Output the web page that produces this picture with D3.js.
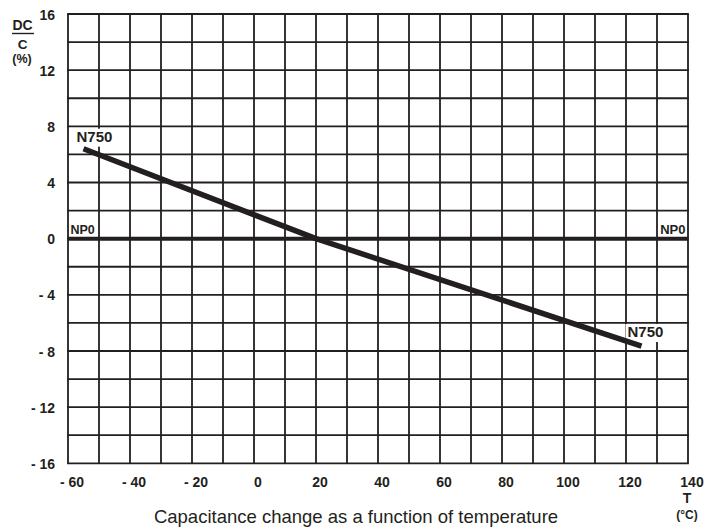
<!DOCTYPE html>
<html>
<head>
<meta charset="utf-8">
<script src="https://cdn.jsdelivr.net/npm/d3@7"></script>
<style>
  html, body { margin: 0; padding: 0; background: #ffffff; }
  svg { display: block; }
  text { font-family: "Liberation Sans", Arial, Helvetica, sans-serif; fill: #231f20; }
</style>
</head>
<body>
<svg id="chart" width="705" height="529"></svg>
<script>
// ---- data ----
const xTicks = [-60, -40, -20, 0, 20, 40, 60, 80, 100, 120, 140];
const yTicks = [-16, -12, -8, -4, 0, 4, 8, 12, 16];
const xGrid = d3.range(-60, 141, 10);
const yGrid = d3.range(-16, 17, 2);
const n750Temp = [-55, 20, 125];
const n750Change = [6.4, 0, -7.65];
const np0Temp = [-60, 140];
const np0Change = [0, 0];
const title = "Capacitance change as a function of temperature";

// ---- layout ----
const plotLeft = 68, plotRight = 688, plotTop = 14, plotBottom = 463.3;
const ink = "#231f20";

const svg = d3.select("#chart");
const x = d3.scaleLinear().domain([-60, 140]).range([plotLeft, plotRight]);
const y = d3.scaleLinear().domain([-16, 16]).range([plotBottom, plotTop]);

const fmt = v => v < 0 ? "- " + Math.abs(v) : String(v);

// grid
const g = svg.append("g");
g.selectAll("line.vx").data(xGrid).join("line")
  .attr("x1", d => x(d)).attr("x2", d => x(d))
  .attr("y1", plotTop).attr("y2", plotBottom)
  .attr("stroke", ink).attr("stroke-width", 1.8);
g.selectAll("line.hy").data(yGrid).join("line")
  .attr("x1", plotLeft - 0.9).attr("x2", plotRight + 0.9)
  .attr("y1", d => y(d)).attr("y2", d => y(d))
  .attr("stroke", ink).attr("stroke-width", 1.8);

// tick labels via d3 axes
const xAxis = d3.axisBottom(x).tickValues(xTicks).tickFormat(fmt).tickSize(0).tickPadding(0);
const xa = svg.append("g").attr("transform", `translate(3.5, ${plotBottom + 24})`).call(xAxis);
xa.select(".domain").remove();
xa.selectAll("text").attr("font-size", 14).attr("font-weight", "bold").attr("fill", ink)
  .attr("font-family", "'Liberation Sans', Arial, sans-serif").attr("dy", 0);

const yAxis = d3.axisLeft(y).tickValues(yTicks).tickFormat(fmt).tickSize(0).tickPadding(0);
const ya = svg.append("g").attr("transform", `translate(55, 0)`).call(yAxis);
ya.select(".domain").remove();
ya.selectAll("text").attr("font-size", 14).attr("font-weight", "bold").attr("fill", ink)
  .attr("font-family", "'Liberation Sans', Arial, sans-serif").attr("dy", "0.36em");

// series labels (with white backing over the grid)
const labels = svg.append("g");
const lab = (t, tx, ty, size, anchor, boxed) => {
  const tEl = labels.append("text").text(t)
    .attr("x", tx).attr("y", ty).attr("text-anchor", anchor || "start")
    .attr("font-size", size).attr("font-weight", "bold");
  if (boxed) {
    const b = tEl.node().getBBox();
    labels.insert("rect", () => tEl.node())
      .attr("x", b.x - 2).attr("y", b.y + 1).attr("width", b.width + 4).attr("height", b.height + 1)
      .attr("fill", "#ffffff");
  }
  return tEl;
};
lab("N750", 76.5, 141.7, 15, "start", true);
lab("N750", 627.5, 337, 15, "start", true);
lab("NP0", 70.5, 234, 12.5, "start", false);
lab("NP0", 685.5, 234, 13, "end", false);

// lines
const line = d3.line().x(d => x(d[0])).y(d => y(d[1]));
svg.append("path")
  .datum(np0Temp.map((t, i) => [t, np0Change[i]]))
  .attr("d", line).attr("fill", "none").attr("stroke", ink).attr("stroke-width", 4);
svg.append("path")
  .datum(n750Temp.map((t, i) => [t, n750Change[i]]))
  .attr("d", line).attr("fill", "none").attr("stroke", ink).attr("stroke-width", 5.5)
  .attr("stroke-linejoin", "round");

// y-axis title
svg.append("text").text("DC").attr("x", 22.5).attr("y", 29.5).attr("text-anchor", "middle")
  .attr("font-size", 14).attr("font-weight", "bold");
svg.append("line").attr("x1", 12).attr("x2", 34).attr("y1", 33.5).attr("y2", 33.5)
  .attr("stroke", ink).attr("stroke-width", 1.4);
svg.append("text").text("C").attr("x", 22.5).attr("y", 48.5).attr("text-anchor", "middle")
  .attr("font-size", 13.5).attr("font-weight", "bold");
svg.append("text").text("(%)").attr("x", 22).attr("y", 62.5).attr("text-anchor", "middle")
  .attr("font-size", 12.5).attr("font-weight", "bold");

// x-axis title
svg.append("text").text("T").attr("x", 687).attr("y", 502.5).attr("text-anchor", "middle")
  .attr("font-size", 14).attr("font-weight", "bold");
svg.append("text").text("(°C)").attr("x", 687).attr("y", 518.5).attr("text-anchor", "middle")
  .attr("font-size", 12).attr("font-weight", "bold");

// chart title
svg.append("text").text(title).attr("x", 356).attr("y", 523).attr("text-anchor", "middle")
  .attr("font-size", 18.5);
</script>
</body>
</html>
